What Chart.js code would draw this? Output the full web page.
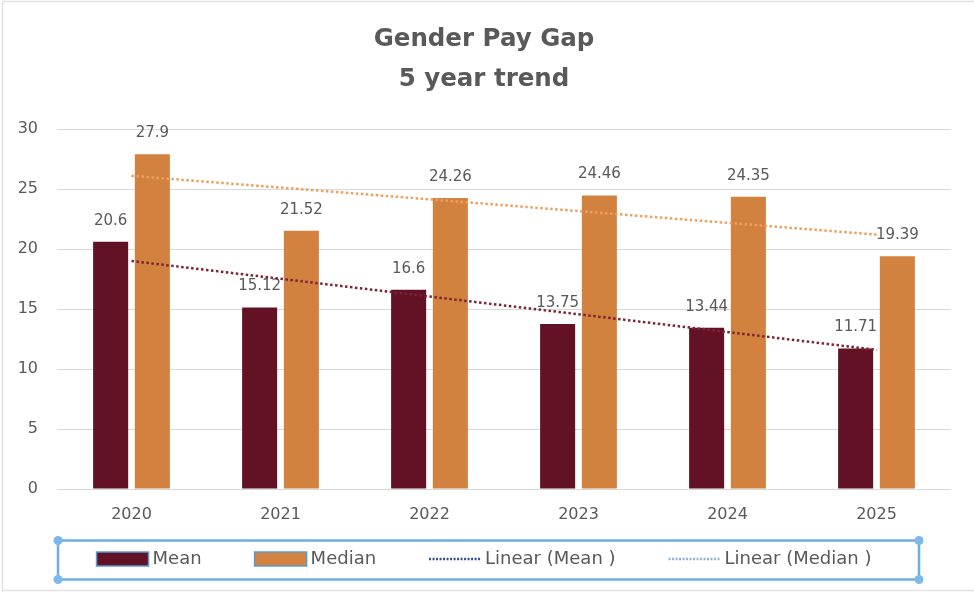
<!DOCTYPE html>
<html><head><meta charset="utf-8">
<script src="https://cdn.jsdelivr.net/npm/chart.js@4.4.1/dist/chart.umd.min.js"></script>
<style>html,body{margin:0;padding:0;background:#fff;}#wrap{width:974px;height:592px;}</style>
</head><body><div id="wrap"><canvas id="c" width="974" height="592"></canvas></div>
<script>
// ---- data ----
const titleLines = ['Gender Pay Gap', '5 year trend'];
const years = ['2020', '2021', '2022', '2023', '2024', '2025'];
const meanGap = [20.6, 15.12, 16.6, 13.75, 13.44, 11.71];
const medianGap = [27.9, 21.52, 24.26, 24.46, 24.35, 19.39];
// linear trend lines (end points only)
const meanTrend = [19.0, null, null, null, null, 11.6];
const medianTrend = [26.1, null, null, null, null, 21.2];
const seriesLabels = ['Mean', 'Median', 'Linear (Mean )', 'Linear (Median )'];
const yMin = 0, yMax = 30, yStep = 5;

// ---- styles ----
const FONT = '"DejaVu Sans", "Liberation Sans", Arial, sans-serif';
const TEXT = '#595959';
const MEAN_COL = '#621224';
const MEDIAN_COL = '#D3813F';

const bgPlugin = {
  id: 'bg',
  beforeDraw(chart) {
    const ctx = chart.ctx;
    ctx.save();
    ctx.fillStyle = '#fff';
    ctx.fillRect(0, 0, chart.width, chart.height);
    ctx.strokeStyle = '#e3e3e3';
    ctx.lineWidth = 1.5;
    ctx.beginPath();
    ctx.moveTo(2.5, chart.height);
    ctx.lineTo(2.5, 1.5);
    ctx.lineTo(chart.width, 1.5);
    ctx.moveTo(2.5, chart.height - 1.5);
    ctx.lineTo(chart.width, chart.height - 1.5);
    ctx.stroke();
    ctx.restore();
  }
};

const labelPlugin = {
  id: 'barLabels',
  beforeDatasetsDraw(chart) {
    const ctx = chart.ctx;
    ctx.save();
    ctx.font = '15px ' + FONT;
    ctx.fillStyle = TEXT;
    ctx.textAlign = 'center';
    ctx.textBaseline = 'middle';
    chart.data.datasets.forEach((ds, i) => {
      if (ds.type !== 'bar') return;
      const meta = chart.getDatasetMeta(i);
      meta.data.forEach((el, j) => {
        ctx.fillText(String(ds.data[j]), el.x, el.y - 21);
      });
    });
    ctx.restore();
  }
};

const legendPlugin = {
  id: 'customLegend',
  afterDraw(chart) {
    const ctx = chart.ctx;
    const cy = 559, boxW = 52, boxH = 14, gapText = 4, gapItem = 53;
    ctx.save();
    // selection frame
    ctx.strokeStyle = '#6aaee8';
    ctx.lineWidth = 2.5;
    ctx.strokeRect(58, 540.5, 861, 39);
    ctx.fillStyle = '#7db8ea';
    [[58, 540.5], [919, 540.5], [58, 579.5], [919, 579.5]].forEach(p => {
      ctx.beginPath(); ctx.arc(p[0], p[1], 4.5, 0, Math.PI * 2); ctx.fill();
    });
    ctx.font = '18px ' + FONT;
    const dsets = chart.data.datasets;
    const widths = dsets.map(d => boxW + gapText + ctx.measureText(d.label).width);
    const total = widths.reduce((a, b) => a + b, 0) + gapItem * (widths.length - 1);
    let x = 484 - total / 2;
    dsets.forEach((d, i) => {
      if (d.type === 'bar') {
        ctx.fillStyle = d.backgroundColor;
        ctx.fillRect(x, cy - boxH / 2, boxW, boxH);
        ctx.strokeStyle = '#5b9bd5';
        ctx.lineWidth = 1.5;
        ctx.strokeRect(x, cy - boxH / 2, boxW, boxH);
      } else {
        ctx.strokeStyle = i === 2 ? '#2f4f8f' : '#8fb2dc';
        ctx.lineWidth = 2.5;
        ctx.setLineDash([2, 1.5]);
        ctx.beginPath(); ctx.moveTo(x, cy); ctx.lineTo(x + boxW, cy); ctx.stroke();
        ctx.setLineDash([]);
      }
      ctx.fillStyle = TEXT;
      ctx.textAlign = 'left';
      ctx.textBaseline = 'middle';
      ctx.fillText(d.label, x + boxW + gapText, cy);
      x += widths[i] + gapItem;
    });
    ctx.restore();
  }
};

new Chart(document.getElementById('c'), {
  data: {
    labels: years,
    datasets: [
      { type: 'bar', label: seriesLabels[0], data: meanGap, backgroundColor: MEAN_COL, borderWidth: 0,
        categoryPercentage: 0.56, barPercentage: 0.84, order: 2 },
      { type: 'bar', label: seriesLabels[1], data: medianGap, backgroundColor: MEDIAN_COL, borderWidth: 0,
        categoryPercentage: 0.56, barPercentage: 0.84, order: 2 },
      { type: 'line', label: seriesLabels[2], data: meanTrend, borderColor: '#7b2436', borderWidth: 2.5,
        borderDash: [2.5, 2.5], pointRadius: 0, spanGaps: true, fill: false, order: 0 },
      { type: 'line', label: seriesLabels[3], data: medianTrend, borderColor: '#EE9F60', borderWidth: 2.5,
        borderDash: [2.5, 2.5], pointRadius: 0, spanGaps: true, fill: false, order: 0 }
    ]
  },
  options: {
    responsive: false,
    animation: false,
    devicePixelRatio: 1,
    layout: { padding: { left: 17, right: 23, top: 0, bottom: 0 } },
    plugins: {
      legend: { display: false },
      tooltip: { enabled: false },
      title: {
        display: true, text: titleLines, color: TEXT,
        font: { family: FONT, size: 24.5, weight: 'bold', lineHeight: 1.633 },
        padding: { top: 20, bottom: 29 }
      }
    },
    scales: {
      x: {
        grid: { display: false, drawTicks: false },
        border: { display: false },
        ticks: { color: TEXT, font: { family: FONT, size: 16 }, padding: 16 },
        afterFit(s) { s.height = 103; }
      },
      y: {
        min: yMin, max: yMax,
        grid: { color: '#d9d9d9', lineWidth: 1, drawTicks: false },
        border: { display: false },
        ticks: { stepSize: yStep, color: TEXT, font: { family: FONT, size: 16 }, padding: 19 },
        afterFit(s) { s.width = 40; }
      }
    }
  },
  plugins: [bgPlugin, labelPlugin, legendPlugin]
});
</script>
</body></html>
